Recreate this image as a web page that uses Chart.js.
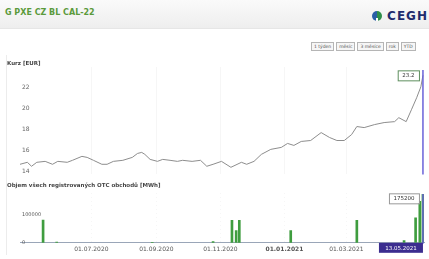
<!DOCTYPE html>
<html lang="cs">
<head>
<meta charset="UTF-8">
<title>G PXE CZ BL CAL-22</title>
<style>
    body { margin: 0; width: 429px; height: 259px; overflow: hidden; background: #fff; position: relative;
           font-family: "DejaVu Sans", Verdana, sans-serif; }
    #head { position: absolute; left: 0; top: 0; width: 429px; height: 28px;
            background: linear-gradient(#fafafa, #eeeeee); border-bottom: 1px solid #e6e6e6; }
    #title { position: absolute; left: 5px; top: 8px; font-size: 8px; font-weight: bold; color: #5b9a3c; }
    #logo { position: absolute; left: 372px; top: 5px; height: 14px; white-space: nowrap; }
    #logo i { display: inline-block; width: 10px; height: 10px; border-radius: 50%; vertical-align: middle;
              background: conic-gradient(#2f8f4a 0 45%, #fff 45% 55%, #2a5fa8 55% 100%); }
    #logo b { font-size: 12px; color: #1f2c6e; letter-spacing: 1px; vertical-align: middle; }
    #buttons { position: absolute; left: 311px; top: 42px; white-space: nowrap; font-size: 0; }
    #buttons span { display: inline-block; height: 7px; line-height: 7px; padding: 0 2px; margin-right: 2px;
                    border: 1px solid #b5b5b5; background: #f6f6f6; color: #555; font-size: 4.5px; }
    #frame { position: absolute; left: 6px; top: 55px; width: 422px; height: 200px; border-left: 1px solid #ececec; }
    .lbl { position: absolute; left: 7px; font-size: 5.5px; font-weight: bold; color: #444; }
    #top { position: absolute; left: 0; top: 55px; width: 429px; height: 125px; }
    #bot { position: absolute; left: 0; top: 180px; width: 429px; height: 79px; }
</style>
</head>
<body>
    <div id="head">
        <div id="title">G PXE CZ BL CAL-22</div>
        <div id="logo"><i></i> <b>CEGH</b></div>
    </div>
    <div id="buttons"><span>1 týden</span><span>měsíc</span><span>3 měsíce</span><span>rok</span><span>YTD</span></div>
    <div id="frame"></div>
    <div id="top"><canvas id="priceChart"></canvas></div>
    <div id="bot"><canvas id="volumeChart"></canvas></div>
    <div class="lbl" style="top:60px">Kurz [EUR]</div>
    <div class="lbl" style="top:182px">Objem všech registrovaných OTC obchodů [MWh]</div>

    <script src="https://cdn.jsdelivr.net/npm/chart.js"></script>
    <script>
        // data
        const startDate = '2020-04-24'
        const endDate = '2021-05-14'

        const priceDates = ['2020-04-24', '2020-05-01', '2020-05-05', '2020-05-10', '2020-05-18', '2020-05-25', '2020-05-30',
            '2020-06-08', '2020-06-13', '2020-06-22', '2020-06-27', '2020-07-03', '2020-07-11', '2020-07-16', '2020-07-22',
            '2020-07-31', '2020-08-09', '2020-08-14', '2020-08-18', '2020-08-21', '2020-08-26', '2020-09-02', '2020-09-07',
            '2020-09-14', '2020-09-21', '2020-09-26', '2020-10-05', '2020-10-13', '2020-10-19', '2020-10-25', '2020-11-02',
            '2020-11-11', '2020-11-21', '2020-11-26', '2020-12-03', '2020-12-10', '2020-12-19', '2020-12-29', '2021-01-04',
            '2021-01-10', '2021-01-17', '2021-01-26', '2021-02-05', '2021-02-13', '2021-02-20', '2021-02-27', '2021-03-06',
            '2021-03-11', '2021-03-18', '2021-03-28', '2021-04-06', '2021-04-16', '2021-04-20', '2021-04-27', '2021-05-02',
            '2021-05-07', '2021-05-11', '2021-05-13']
        const prices = [14.67, 14.86, 14.48, 14.86, 14.95, 14.67, 14.95,
            14.86, 15.05, 15.43, 15.33, 15.05, 14.67, 14.67, 14.95,
            15.05, 15.33, 15.71, 15.81, 15.62, 15.14, 14.95, 15.14,
            15.05, 14.95, 15.05, 14.95, 15.05, 14.48, 14.67, 14.95,
            14.38, 14.86, 14.67, 14.95, 15.62, 16.1, 16.29, 16.67,
            16.48, 16.86, 16.95, 17.71, 17.24, 16.95, 16.95, 17.52,
            18.29, 18.19, 18.48, 18.67, 18.76, 19.14, 18.76, 19.9,
            21.05, 22.1, 23.2]

        const volumeDates = ['2020-05-16', '2020-05-29', '2020-08-28', '2020-10-25', '2020-11-12', '2020-11-16',
            '2020-11-19', '2021-01-07', '2021-03-11', '2021-04-25', '2021-05-06', '2021-05-10', '2021-05-13']
        const volumes = [82000, 3000, 2000, 4000, 81000, 44000, 81000, 44000, 81000, 8000, 90000, 150000, 175200]

        const xTickDates = ['2020-07-01', '2020-09-01', '2020-11-01', '2021-01-01', '2021-03-01']
        const priceTicks = [14, 16, 18, 20, 22]
        const volumeTicks = [0, 100000]

        const t0 = Date.parse(startDate)
        const dayOf = s => (Date.parse(s) - t0) / 864e5
        const fmtDate = d => {
            const t = new Date(t0 + d * 864e5)
            const p = n => String(n).padStart(2, '0')
            return p(t.getUTCDate()) + '.' + p(t.getUTCMonth() + 1) + '.' + t.getUTCFullYear()
        }
        const font = '"DejaVu Sans", Verdana, sans-serif'

        // crosshair on the last point with value / date flags
        const crosshair = {
            id: 'crosshair',
            afterDatasetsDraw(chart, args, opts) {
                const { ctx, chartArea, scales } = chart
                const pts = chart.data.datasets[0].data
                const last = pts[pts.length - 1]
                const x = scales.x.getPixelForValue(last.x)
                const y = scales.y.getPixelForValue(last.y) + opts.boxDy
                ctx.save()
                ctx.strokeStyle = '#6a62d9'
                ctx.lineWidth = 1.5
                ctx.beginPath()
                ctx.moveTo(x, chartArea.top + opts.lineTop)
                ctx.lineTo(x, chartArea.bottom + opts.lineBottom)
                ctx.stroke()

                ctx.font = '5.5px ' + font
                ctx.textAlign = 'center'
                ctx.textBaseline = 'middle'
                const text = String(last.y)
                const w = ctx.measureText(text).width + 9, h = 10
                ctx.fillStyle = '#fff'
                ctx.fillRect(x - 4 - w, y - h / 2, w, h)
                ctx.strokeStyle = opts.boxColor
                ctx.lineWidth = 1
                ctx.strokeRect(x - 4 - w + 0.5, y - h / 2 + 0.5, w, h)
                ctx.fillStyle = '#333'
                ctx.fillText(text, x - 4 - w / 2, y + 0.5)

                if (opts.dateFlag) {
                    const dw = 44
                    ctx.fillStyle = '#3b2d8f'
                    ctx.fillRect(x - dw, chartArea.bottom, dw, 10)
                    ctx.fillStyle = '#fff'
                    ctx.fillText(fmtDate(last.x), x - dw / 2, chartArea.bottom + 5.5)
                }
                ctx.restore()
            }
        }

        const xScale = (showTicks) => ({
            type: 'linear',
            min: 0,
            max: dayOf(endDate),
            offset: false,
            afterBuildTicks: s => { s.ticks = xTickDates.map(d => ({ value: dayOf(d) })) },
            ticks: {
                display: showTicks,
                padding: 3,
                maxRotation: 0,
                color: '#555',
                callback: v => fmtDate(v),
                font: c => ({ size: 6, family: font, weight: c.tick && fmtDate(c.tick.value).startsWith('01.01') ? 'bold' : 'normal' })
            },
            grid: { color: '#f6f6f6', drawTicks: false, offset: false },
            border: showTicks ? { color: '#9aa6b8', dash: [1, 3] } : { display: false }
        })

        new Chart(document.getElementById('priceChart'), {
            type: 'line',
            data: {
                datasets: [{
                    data: priceDates.map((d, i) => ({ x: dayOf(d), y: prices[i] })),
                    borderColor: '#8d8d8d',
                    borderWidth: 1,
                    pointRadius: 0,
                    tension: 0
                }]
            },
            options: {
                animation: false,
                responsive: true,
                maintainAspectRatio: false,
                layout: { padding: { left: 20, right: 5, top: 12, bottom: 5 } },
                plugins: {
                    legend: { display: false },
                    tooltip: { enabled: false },
                    crosshair: { boxDy: 0, lineTop: 3, lineBottom: 0, boxColor: '#5f8f5f', dateFlag: false }
                },
                scales: {
                    x: xScale(false),
                    y: {
                        min: 13.7,
                        max: 24,
                        afterBuildTicks: s => { s.ticks = priceTicks.map(v => ({ value: v })) },
                        afterFit: s => { s.width = 0 },
                        ticks: { mirror: true, padding: 2, color: '#666', font: { size: 6, family: font } },
                        grid: { display: false },
                        border: { display: false }
                    }
                }
            },
            plugins: [crosshair]
        })

        new Chart(document.getElementById('volumeChart'), {
            type: 'bar',
            data: {
                datasets: [{
                    data: volumeDates.map((d, i) => ({ x: dayOf(d), y: volumes[i] })),
                    backgroundColor: '#3f9d3f',
                    barThickness: 2
                }]
            },
            options: {
                animation: false,
                responsive: true,
                maintainAspectRatio: false,
                layout: { padding: { left: 20, right: 5, top: 13, bottom: 3 } },
                plugins: {
                    legend: { display: false },
                    tooltip: { enabled: false },
                    crosshair: { boxDy: 4, lineTop: 1, lineBottom: 1, boxColor: '#999', dateFlag: true }
                },
                scales: {
                    x: xScale(true),
                    y: {
                        min: 0,
                        max: 180000,
                        afterBuildTicks: s => { s.ticks = volumeTicks.map(v => ({ value: v })) },
                        afterFit: s => { s.width = 0 },
                        ticks: { mirror: true, padding: 2, color: '#555', font: { size: 5, family: font }, callback: v => String(v) },
                        grid: { display: false },
                        border: { display: false }
                    }
                }
            },
            plugins: [crosshair]
        })
    </script>
</body>
</html>
